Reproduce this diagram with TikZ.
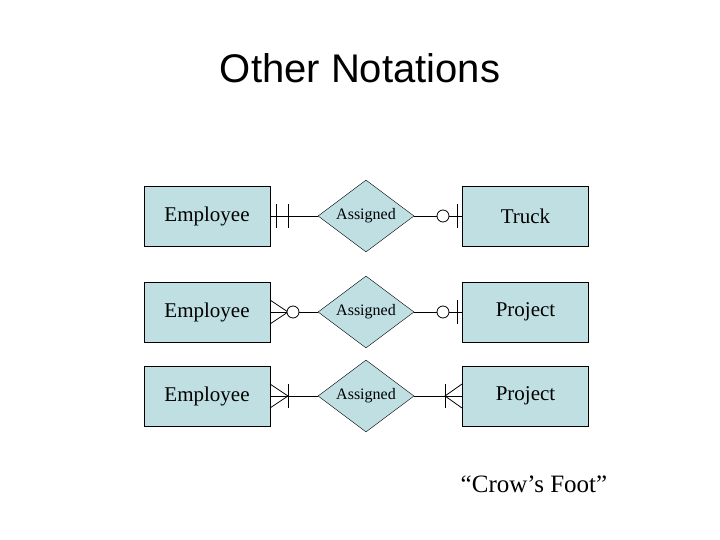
\documentclass[tikz,border=0pt]{standalone}
\usepackage{fontspec}
\setmainfont{Liberation Serif}
\newfontfamily\arialf{Liberation Sans}
\usetikzlibrary{shapes.geometric}
\begin{document}
\begin{tikzpicture}[x=1pt,y=-1pt,
  ent/.style={draw,fill=cyan!10!teal!10!white,fill={rgb,255:red,191;green,223;blue,227},minimum width=126pt,minimum height=60pt,inner sep=0pt,font=\fontsize{21}{24}\selectfont},
  rel/.style={draw,diamond,aspect=1.33,fill={rgb,255:red,191;green,223;blue,227},minimum width=96pt,minimum height=72pt,inner sep=0pt,font=\fontsize{16}{18}\selectfont},
  ln/.style={line width=0.8pt}]
\useasboundingbox (0,0) rectangle (720,540);
\node[font=\arialf\fontsize{40}{44}\selectfont] (title) at (360,68) {Other Notations};
\foreach \i/\y/\r in {1/216/Truck,2/312/Project,3/396/Project}{
  \node[ent] (L\i) at (207,\y) {Employee};
  \node[rel] (D\i) at (366,\y) {Assigned};
  \node[ent] (R\i) at (525.5,\y) {\r};
  \draw[ln] (L\i.east) -- (D\i.west);
  \draw[ln] (D\i.east) -- (R\i.west);
}
% row1
\draw[ln] (276,204) -- (276,228) (288,204) -- (288,228);
\draw[ln,fill=white] (443,216) circle (6);
\draw[ln] (457,204) -- (457,228);
% row2
\draw[ln] (270,300) -- (288,312) -- (270,324);
\draw[ln,fill=white] (293,312) circle (6);
\draw[ln,fill=white] (443,312) circle (6);
\draw[ln] (457,300) -- (457,324);
% row3
\draw[ln] (270,384) -- (288,396) -- (270,408);
\draw[ln] (288,384) -- (288,408);
\draw[ln] (462,384) -- (445,396) -- (462,408);
\draw[ln] (445,384) -- (445,408);
\node[font=\fontsize{25}{28}\selectfont] (cap) at (534,484) {“Crow’s Foot”};
\end{tikzpicture}
\end{document}
